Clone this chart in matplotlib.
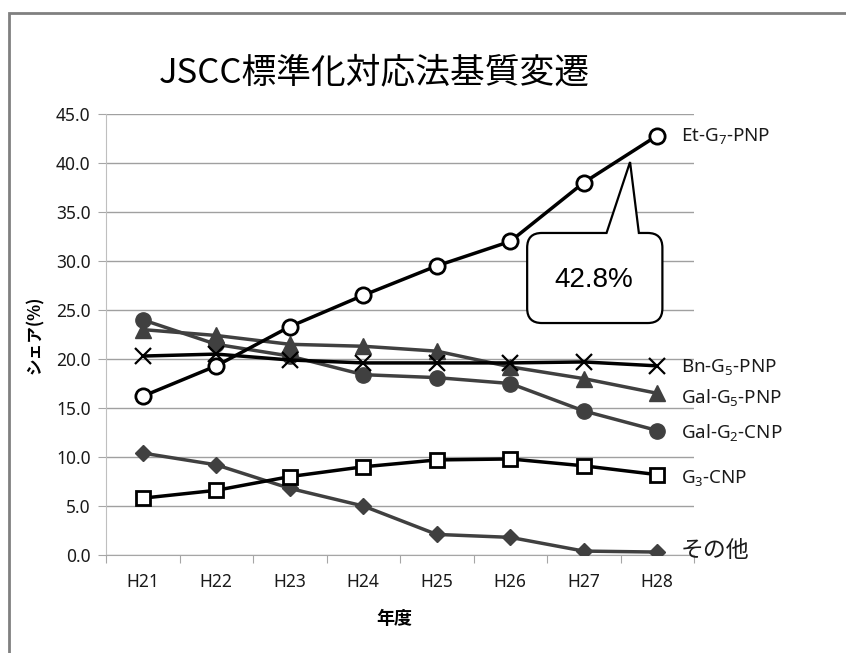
import matplotlib
matplotlib.use('Agg')
import matplotlib.pyplot as plt
from matplotlib.patches import Rectangle, PathPatch
from matplotlib.path import Path

plt.rcParams['font.family'] = ['Noto Sans', 'Noto Sans CJK JP', 'DejaVu Sans']
plt.rcParams['mathtext.fontset'] = 'custom'
plt.rcParams['mathtext.rm'] = 'Noto Sans'
plt.rcParams['mathtext.default'] = 'regular'

# Fiscal years
years = ['H21', 'H22', 'H23', 'H24', 'H25', 'H26', 'H27', 'H28']

# Share (%) of each substrate method
et_g7_pnp = [16.2, 19.3, 23.3, 26.5, 29.5, 32.0, 38.0, 42.8]
bn_g5_pnp = [20.3, 20.5, 19.9, 19.6, 19.6, 19.6, 19.7, 19.3]
gal_g5_pnp = [23.0, 22.4, 21.5, 21.3, 20.8, 19.2, 18.0, 16.5]
gal_g2_cnp = [24.0, 21.5, 20.3, 18.4, 18.1, 17.5, 14.7, 12.7]
g3_cnp = [5.8, 6.6, 8.0, 9.0, 9.7, 9.8, 9.1, 8.2]
others = [10.4, 9.2, 6.8, 5.0, 2.1, 1.8, 0.4, 0.3]

series_names = ['Et-G$_7$-PNP', 'Bn-G$_5$-PNP', 'Gal-G$_5$-PNP',
                'Gal-G$_2$-CNP', 'G$_3$-CNP', 'その他']
callout_text = '42.8%'

fig = plt.figure(figsize=(8.46, 6.53), dpi=100)
ax = fig.add_axes([106 / 846, 1 - 555 / 653, 588 / 846, 441 / 653])

x = list(range(len(years)))
dark = '#404040'

ax.plot(x, others, color=dark, lw=2.5, marker='D', ms=8, mfc=dark, mec=dark, zorder=3)
ax.plot(x, g3_cnp, color='black', lw=2.5, marker='s', ms=10, mfc='white', mec='black', mew=2, zorder=4)
ax.plot(x, gal_g2_cnp, color=dark, lw=2.5, marker='o', ms=11, mfc=dark, mec=dark, zorder=3)
ax.plot(x, gal_g5_pnp, color=dark, lw=2.5, marker='^', ms=11, mfc=dark, mec=dark, zorder=3)
ax.plot(x, bn_g5_pnp, color='black', lw=2.5, marker='x', ms=11, mec='black', mew=1.6, zorder=4)
ax.plot(x, et_g7_pnp, color='black', lw=2.5, marker='o', ms=11, mfc='white', mec='black', mew=2, zorder=5)

# Series names at the right end of each line
last_vals = [et_g7_pnp[-1], bn_g5_pnp[-1], gal_g5_pnp[-1], gal_g2_cnp[-1], g3_cnp[-1], others[-1]]
label_offsets = [0.0, -0.1, -0.4, -0.25, -0.35, 0.1]
for name, v, dv in zip(series_names, last_vals, label_offsets):
    size = 16.5 if name == 'その他' else 13.5
    ax.text(7.32, v + dv, name, fontsize=size, va='center', ha='left', color='#1a1a1a', clip_on=False)

# Axes styling
ax.set_xlim(-0.5, 7.5)
ax.set_ylim(0, 45)
ax.set_yticks([i * 5 for i in range(10)])
ax.set_yticklabels([f'{i * 5:.1f}' for i in range(10)])
ax.set_xticks([i + 0.5 for i in range(-1, 8)])
ax.set_xticklabels([])
ax.set_xticks(x, minor=True)
ax.set_xticklabels(years, minor=True)
ax.tick_params(axis='x', which='minor', length=0, labelsize=12.5, pad=13, colors='#1a1a1a')
ax.tick_params(axis='x', which='major', length=6, color='#a6a6a6')
ax.tick_params(axis='y', length=6, color='#a6a6a6', labelsize=12.5, labelcolor='#1a1a1a', pad=5)
ax.grid(axis='y', color='#a0a0a0', lw=1)
ax.set_axisbelow(True)
for side in ['top', 'right']:
    ax.spines[side].set_visible(False)
ax.spines['left'].set_color('#bfbfbf')
ax.spines['bottom'].set_color('#a6a6a6')

ax.set_ylabel('シェア(%)', fontsize=12, fontweight='bold', family=['Noto Sans CJK JP'])
ax.yaxis.set_label_coords(-0.106, 0.5)
ax.set_xlabel('年度', fontsize=13, fontweight='bold', family=['Noto Sans CJK JP'])
ax.xaxis.set_label_coords(0.49, -0.122)

fig.text(0.442, 0.888, 'JSCC標準化対応法基質変遷', fontsize=25, ha='center', va='center',
         family=['Noto Sans CJK JP'], color='black')

# Speech-bubble callout pointing at the latest value
L, R, B, T = 5.23, 7.07, 23.67, 32.86
b1, b2 = 6.31, 6.75
tip = (6.63, 40.1)
rx, ry = 0.2, 1.5
verts = [(L + rx, T), (b1, T), tip, (b2, T), (R - rx, T),
         (R, T), (R, T - ry), (R, B + ry),
         (R, B), (R - rx, B), (L + rx, B),
         (L, B), (L, B + ry), (L, T - ry),
         (L, T), (L + rx, T), (L + rx, T)]
codes = [Path.MOVETO, Path.LINETO, Path.LINETO, Path.LINETO, Path.LINETO,
         Path.CURVE3, Path.CURVE3, Path.LINETO,
         Path.CURVE3, Path.CURVE3, Path.LINETO,
         Path.CURVE3, Path.CURVE3, Path.LINETO,
         Path.CURVE3, Path.CURVE3, Path.CLOSEPOLY]
bubble = PathPatch(Path(verts, codes), facecolor='white', edgecolor='black', lw=1.6, zorder=6, clip_on=False)
ax.add_patch(bubble)
ax.text(6.13, 28.1, callout_text, fontsize=20, ha='center', va='center',
        family=['Liberation Sans'], zorder=7)

# Outer chart frame
fig.patches.append(Rectangle((9 / 846, -0.5), 1.2, 0.5 + 1 - 13 / 653, transform=fig.transFigure,
                             fill=False, edgecolor='#808080', lw=2, clip_on=False))

fig.savefig('out.png', dpi=100)
